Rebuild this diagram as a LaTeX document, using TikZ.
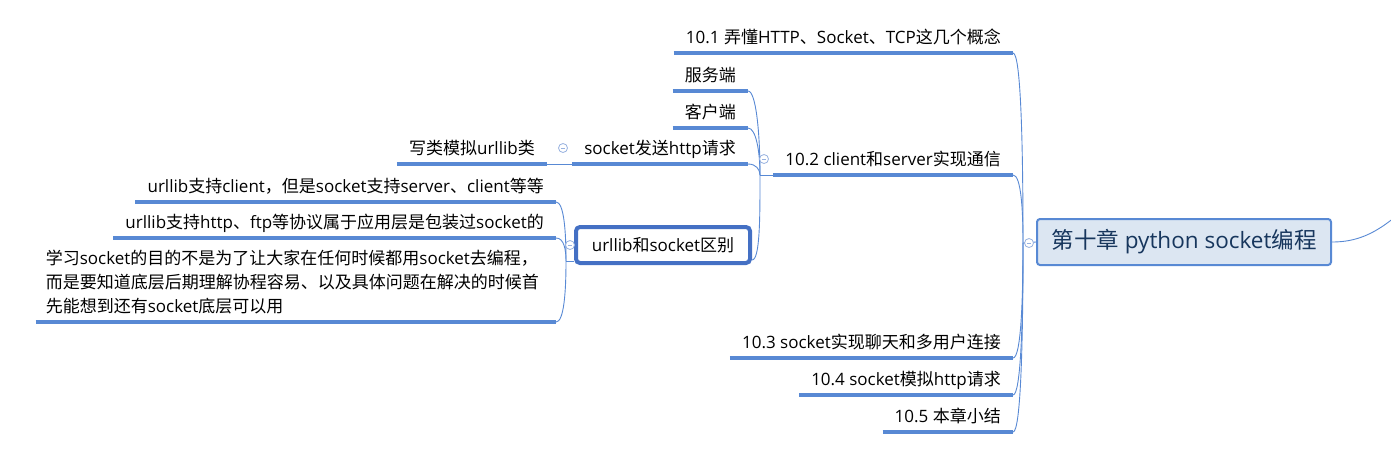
\documentclass[tikz,border=0pt]{standalone}
\usepackage{fontspec}
\setmainfont{Open Sans}
\newfontfamily\cjkfont{Noto Sans CJK SC}
\XeTeXinterchartokenstate=1
\newXeTeXintercharclass\cjkclass
\newcount\cjkcode
\def\cjkrange#1#2{\cjkcode=#1\relax
  \loop\XeTeXcharclass\cjkcode=\cjkclass
  \ifnum\cjkcode<#2\relax\advance\cjkcode by 1\repeat}
\cjkrange{"3000}{"303F}
\cjkrange{"4E00}{"9FFF}
\cjkrange{"FF00}{"FFEF}
\XeTeXinterchartoks 0 \cjkclass={\begingroup\cjkfont}
\XeTeXinterchartoks 4095 \cjkclass={\begingroup\cjkfont}
\XeTeXinterchartoks \cjkclass 0={\endgroup}
\XeTeXinterchartoks \cjkclass 4095={\endgroup}
\usetikzlibrary{calc}
\definecolor{lineblue}{HTML}{5889D4}
\definecolor{rootfill}{HTML}{DCE6F2}
\definecolor{selblue}{HTML}{4470C4}
\definecolor{titletext}{HTML}{17365D}
\definecolor{knobblue}{HTML}{98B2E0}
\tikzset{
  body/.style={font=\fontsize{17pt}{24pt}\selectfont},
  topic/.style={body, anchor=south east, inner xsep=12pt, inner ysep=0pt,
    text height=13pt, text depth=9.5pt},
  rootbox/.style={draw=lineblue, fill=rootfill, line width=2pt, rounded corners=3pt,
    minimum width=294pt, minimum height=46pt, text=titletext,
    font=\fontsize{22.5pt}{27pt}\selectfont},
  selbox/.style={body, draw=selblue, fill=white, line width=4pt, rounded corners=4pt,
    minimum width=174pt, minimum height=36pt},
  uline/.style={lineblue, line width=3.3pt},
  conn/.style={lineblue, line width=0.9pt},
  branch/.style={conn, to path={.. controls ($(\tikztostart)+(8,0)$)
    and ($(\tikztotarget)!0.5!(\tikztotarget|-\tikztostart)$) .. (\tikztotarget)}},
  knob/.style={circle, draw=knobblue, fill=white, line width=0.8pt, minimum size=9pt,
    inner sep=0pt, text=knobblue}
}
\begin{document}
\begin{tikzpicture}[x=1pt,y=-1pt]
  \useasboundingbox (0,0) rectangle (1391,451);
  \draw
    (1184,242) node[rootbox] (root) {第十章 python socket编程}
    (1013,53) node[topic] (c1) {10.1 弄懂HTTP、Socket、TCP这几个概念}
    (1013,175) node[topic] (c2) {10.2 client和server实现通信}
    (1013,358) node[topic] (c3) {10.3 socket实现聊天和多用户连接}
    (1013,395) node[topic] (c4) {10.4 socket模拟http请求}
    (1013,432) node[topic] (c5) {10.5 本章小结}
    (748,91) node[topic] (s1) {服务端}
    (748,128) node[topic] (s2) {客户端}
    (748,164) node[topic] (s3) {socket发送http请求}
    (547,164) node[topic] (t1) {写类模拟urllib类}
    (663,245) node[selbox] (ub) {urllib和socket区别}
    (556,202) node[topic] (u1) {urllib支持client，但是socket支持server、client等等}
    (556,238) node[topic] (u2) {urllib支持http、ftp等协议属于应用层是包装过socket的}
    (556,322) node[topic, text height=, text depth=, inner xsep=10pt, inner ysep=7.5pt,
      text width=500pt, align=left] (u3)
      {学习socket的目的不是为了让大家在任何时候都用socket去编程，\\
       而是要知道底层后期理解协程容易、以及具体问题在解决的时候首\\
       先能想到还有socket底层可以用};
  \coordinate (rJ) at (1023,243);
  \coordinate (c2J) at (760,175);
  \coordinate (ubJ) at (566,261);
  \coordinate (ubR) at ([yshift=5pt]ub.south east);
  \coordinate (next) at (1432,185);
  \begin{scope}
    \draw[uline] (c1.south west) -- (c1.south east);
    \draw[uline] (c2.south west) -- (c2.south east);
    \draw[uline] (c3.south west) -- (c3.south east);
    \draw[uline] (c4.south west) -- (c4.south east);
    \draw[uline] (c5.south west) -- (c5.south east);
    \draw[uline] (s1.south west) -- (s1.south east);
    \draw[uline] (s2.south west) -- (s2.south east);
    \draw[uline] (s3.south west) -- (s3.south east);
    \draw[uline] (t1.south west) -- (t1.south east);
    \draw[uline] (u1.south west) -- (u1.south east);
    \draw[uline] (u2.south west) -- (u2.south east);
    \draw[uline] (u3.south west) -- (u3.south east);
  \end{scope}
  \begin{scope}
    \draw[branch] (c1.south east) to (rJ);
    \draw[branch] (c2.south east) to (rJ);
    \draw[branch] (c3.south east) to (rJ);
    \draw[branch] (c4.south east) to (rJ);
    \draw[branch] (c5.south east) to (rJ);
    \draw[conn] (rJ) -- (root.west);
    \draw[branch] (s1.south east) to (c2J);
    \draw[branch] (s2.south east) to (c2J);
    \draw[branch] (s3.south east) to (c2J);
    \draw[branch] (ubR) to (c2J);
    \draw[conn] (c2J) -- (c2.south west);
    \draw[conn] (t1.south east) -- (s3.south west);
    \draw[branch] (u1.south east) to (ubJ);
    \draw[branch] (u2.south east) to (ubJ);
    \draw[branch] (u3.south east) to (ubJ);
    \draw[conn] (ubJ) -- (ubJ -| ub.west);
    \draw[conn] (root.east) .. controls +(40,0) and +(-40,35) .. (next);
  \end{scope}
  \draw
    (1029,243) node[knob] (k1) {\rule{4.5pt}{0.8pt}}
    (764,159) node[knob] (k2) {\rule{4.5pt}{0.8pt}}
    (563,148) node[knob] (k3) {\rule{4.5pt}{0.8pt}}
    (570,245) node[knob] (k4) {\rule{4.5pt}{0.8pt}};
\end{tikzpicture}
\end{document}
